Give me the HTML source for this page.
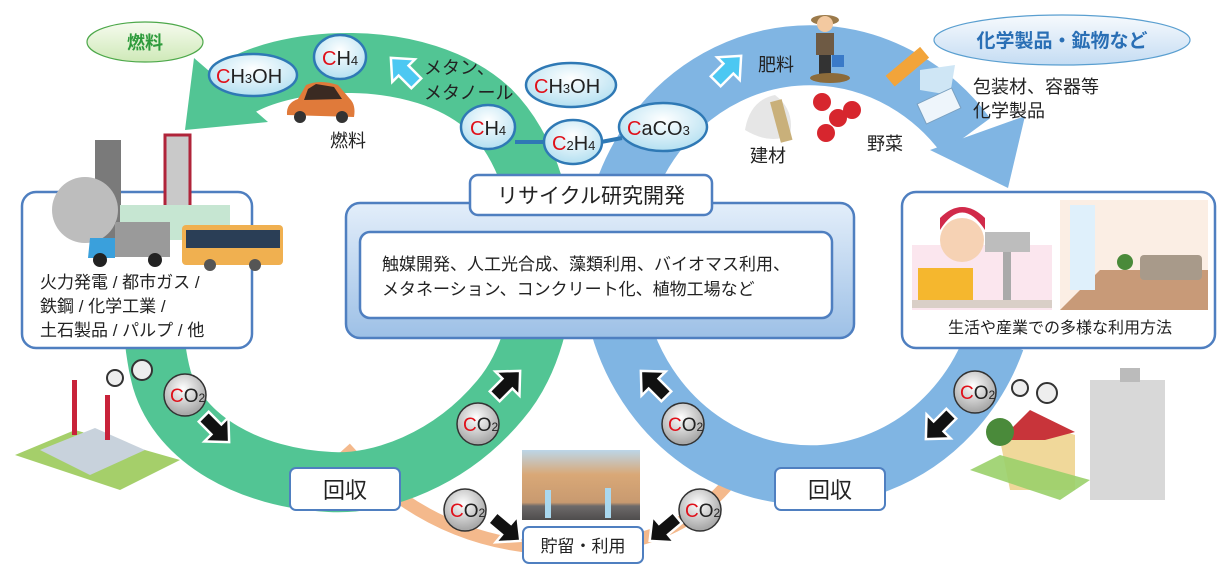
<!DOCTYPE html>
<html><head><meta charset="utf-8"><style>
html,body{margin:0;padding:0;background:#fff}
svg{display:block}
text{font-family:"Liberation Sans","Noto Sans CJK JP",sans-serif}
</style></head><body>
<svg width="1225" height="571" viewBox="0 0 1225 571" xmlns="http://www.w3.org/2000/svg">
<defs>
<radialGradient id="gb" cx="50%" cy="35%" r="60%"><stop offset="0" stop-color="#ffffff"/><stop offset="1" stop-color="#b9e2f2"/></radialGradient>
<radialGradient id="gc" cx="45%" cy="35%" r="60%"><stop offset="0" stop-color="#ffffff"/><stop offset="1" stop-color="#a9a9a9"/></radialGradient>
<linearGradient id="gg" x1="0" y1="0" x2="0" y2="1"><stop offset="0" stop-color="#f6fbef"/><stop offset="1" stop-color="#cfe9b8"/></linearGradient>
<linearGradient id="gbl" x1="0" y1="0" x2="0" y2="1"><stop offset="0" stop-color="#f7fafd"/><stop offset="1" stop-color="#c4dcf3"/></linearGradient>
<linearGradient id="rb" x1="0" y1="0" x2="0" y2="1"><stop offset="0" stop-color="#e3eefa"/><stop offset="1" stop-color="#9dc0e6"/></linearGradient>
<linearGradient id="desert" x1="0" y1="0" x2="0" y2="1"><stop offset="0" stop-color="#bcd6e8"/><stop offset="0.35" stop-color="#d9a877"/><stop offset="0.75" stop-color="#c89a70"/><stop offset="0.8" stop-color="#6d6a6a"/><stop offset="1" stop-color="#4f4d4d"/></linearGradient>
<g id="bk"><polygon points="-16,-7 2,-7 2,-17 20,0 2,17 2,7 -16,7" fill="#111" stroke="#fff" stroke-width="2.5" stroke-linejoin="miter"/></g>
<g id="co2"><circle r="21" fill="url(#gc)" stroke="#333" stroke-width="1.5"/><text x="-15" y="7" font-size="19"><tspan fill="#e0101a">C</tspan><tspan fill="#222">O</tspan><tspan font-size="12" fill="#222">2</tspan></text></g>
</defs>

<!-- orange bottom arc -->
<path d="M345 448 Q 440 555 583 548 Q 700 542 750 452" fill="none" stroke="#f4b98c" stroke-width="13"/>

<!-- green ring -->
<path d="M228,94 C280,55 420,45 490,110 C560,180 560,330 500,400 C450,460 380,485 330,482 C250,478 180,440 162,380 C148,330 152,260 168,200" fill="none" stroke="#52c594" stroke-width="60"/>
<polygon points="194,58 185,130 268,122" fill="#52c594"/>
<!-- blue ring -->
<path d="M 995 340 A 198 210 0 1 1 966 136" fill="none" stroke="#80b5e3" stroke-width="60"/>
<polygon points="930,150 1025,116 1008,188" fill="#80b5e3"/>

<!-- light cyan arrows -->
<g transform="translate(405,72) rotate(-135)"><polygon points="-16,-7 2,-7 2,-16 20,0 2,16 2,7 -16,7" fill="#4cc8f2" stroke="#fff" stroke-width="2.5"/></g>
<g transform="translate(727,70) rotate(-45)"><polygon points="-16,-7 2,-7 2,-16 20,0 2,16 2,7 -16,7" fill="#4cc8f2" stroke="#fff" stroke-width="2.5"/></g>

<!-- fuel ellipse -->
<ellipse cx="145" cy="42" rx="58" ry="20" fill="url(#gg)" stroke="#4da84a" stroke-width="1.2"/>
<text x="145" y="49" font-size="18" font-weight="bold" fill="#2e9b3c" text-anchor="middle">燃料</text>

<!-- chemical ellipse -->
<ellipse cx="1062" cy="40" rx="128" ry="25" fill="url(#gbl)" stroke="#5a9fd0" stroke-width="1.2"/>
<text x="1062" y="47" font-size="19" font-weight="bold" fill="#2a6fb5" text-anchor="middle">化学製品・鉱物など</text>

<!-- molecule bubbles -->
<g stroke="#2f79b5" stroke-width="2.5" fill="url(#gb)">
<ellipse cx="253" cy="75" rx="44" ry="21"/>
<ellipse cx="340" cy="57" rx="26" ry="22"/>
<ellipse cx="571" cy="85" rx="45" ry="22"/>
<ellipse cx="488" cy="127" rx="27" ry="22"/>
<ellipse cx="663" cy="127" rx="44" ry="24"/>
</g>
<line x1="515" y1="142" x2="545" y2="142" stroke="#2f79b5" stroke-width="4"/>
<line x1="601" y1="142" x2="622" y2="138" stroke="#2f79b5" stroke-width="4"/>
<ellipse cx="573" cy="142" rx="29" ry="22" fill="url(#gb)" stroke="#2f79b5" stroke-width="2.5"/>
<g font-size="20" fill="#222">
<text x="216" y="83"><tspan fill="#e0101a">C</tspan>H<tspan font-size="13">3</tspan>OH</text>
<text x="322" y="65"><tspan fill="#e0101a">C</tspan>H<tspan font-size="13">4</tspan></text>
<text x="534" y="93"><tspan fill="#e0101a">C</tspan>H<tspan font-size="13">3</tspan>OH</text>
<text x="470" y="135"><tspan fill="#e0101a">C</tspan>H<tspan font-size="13">4</tspan></text>
<text x="552" y="150"><tspan fill="#e0101a">C</tspan><tspan font-size="13">2</tspan>H<tspan font-size="13">4</tspan></text>
<text x="627" y="135"><tspan fill="#e0101a">C</tspan>aCO<tspan font-size="13">3</tspan></text>
</g>

<!-- labels -->
<g font-size="18" fill="#222">
<text x="424" y="74">メタン、</text>
<text x="424" y="99">メタノール</text>
<text x="330" y="147">燃料</text>
<text x="758" y="71">肥料</text>
<text x="750" y="162">建材</text>
<text x="867" y="150">野菜</text>
<text x="973" y="93">包装材、容器等</text>
<text x="973" y="117">化学製品</text>
</g>

<!-- car -->
<g transform="translate(320,105)">
<path d="M-33,10 Q-34,-2 -22,-6 L-14,-20 Q0,-26 18,-20 L30,-6 Q36,0 34,12 Z" fill="#e07a3a"/>
<path d="M-12,-16 L-4,-21 L14,-18 L22,-6 L-16,-5 Z" fill="#3a2a22"/>
<circle cx="-20" cy="12" r="6" fill="#333"/><circle cx="22" cy="12" r="6" fill="#333"/>
</g>
<!-- farmer -->
<g transform="translate(825,50)">
<ellipse cx="0" cy="-30" rx="14" ry="5" fill="#9b7a4a"/><circle cx="0" cy="-26" r="8" fill="#f3c9a0"/>
<rect x="-9" y="-17" width="18" height="22" fill="#6e5a44"/><rect x="-6" y="5" width="12" height="20" fill="#333"/>
<rect x="7" y="5" width="12" height="12" fill="#3a7ac8"/>
<ellipse cx="5" cy="28" rx="20" ry="5" fill="#8c6b3a"/>
</g>
<!-- materials -->
<path d="M745,130 Q750,100 775,95 Q795,110 790,135 Q770,145 745,130Z" fill="#e6e6e6"/>
<rect x="775" y="100" width="12" height="42" fill="#c9b07a" transform="rotate(-15 781 120)"/>
<g fill="#d7262e"><circle cx="822" cy="102" r="9"/><circle cx="852" cy="110" r="9"/><circle cx="838" cy="118" r="9"/><circle cx="826" cy="133" r="9"/></g>
<rect x="885" y="60" width="45" height="14" fill="#f2a43a" transform="rotate(-40 907 67)"/>
<path d="M920,70 L955,65 L950,95 L920,90Z" fill="#cfe6f5"/>
<rect x="920" y="95" width="38" height="22" fill="#eef5fb" stroke="#7aa0c0" transform="rotate(-25 939 106)"/>

<!-- research box -->
<rect x="346" y="203" width="508" height="135" rx="14" fill="url(#rb)" stroke="#4f7fc0" stroke-width="2.5"/>
<rect x="470" y="175" width="242" height="40" rx="8" fill="#fff" stroke="#4f7fc0" stroke-width="2.5"/>
<text x="591" y="203" font-size="21" fill="#222" text-anchor="middle">リサイクル研究開発</text>
<rect x="360" y="232" width="472" height="86" rx="10" fill="#fff" stroke="#4f7fc0" stroke-width="2.5"/>
<text x="382" y="270" font-size="17" fill="#222">触媒開発、人工光合成、藻類利用、バイオマス利用、</text>
<text x="382" y="295" font-size="17" fill="#222">メタネーション、コンクリート化、植物工場など</text>

<!-- left box -->
<rect x="22" y="192" width="230" height="156" rx="14" fill="#fff" stroke="#4f7fc0" stroke-width="2.5"/>
<!-- left factory -->
<g>
<rect x="95" y="140" width="26" height="100" fill="#7a7a7a"/>
<rect x="165" y="135" width="25" height="100" fill="#c9c9c9" stroke="#b0243a" stroke-width="3"/>
<circle cx="85" cy="210" r="33" fill="#bdbdbd"/>
<rect x="120" y="205" width="110" height="35" fill="#c6e6d2"/>
<rect x="115" y="222" width="55" height="35" fill="#9a9a9a"/>
<path d="M90,238 L115,238 L115,258 L88,258Z" fill="#3aa0dc"/>
<circle cx="100" cy="260" r="7" fill="#222"/><circle cx="155" cy="260" r="7" fill="#222"/>
<rect x="182" y="225" width="101" height="40" rx="4" fill="#f0b050"/><rect x="186" y="230" width="94" height="18" fill="#2a3e56"/>
<circle cx="210" cy="265" r="6" fill="#555"/><circle cx="255" cy="265" r="6" fill="#555"/>
</g>
<g font-size="17" fill="#222">
<text x="40" y="288">火力発電 / 都市ガス /</text>
<text x="40" y="312">鉄鋼 / 化学工業 /</text>
<text x="40" y="336">土石製品 / パルプ / 他</text>
</g>

<!-- right box -->
<rect x="902" y="192" width="313" height="156" rx="14" fill="#fff" stroke="#4f7fc0" stroke-width="2.5"/>
<rect x="912" y="245" width="140" height="65" fill="#fbe6ee"/>
<circle cx="962" cy="240" r="22" fill="#f6d2b4"/><path d="M940,230 Q962,195 985,230 L985,218 Q962,196 940,218Z" fill="#d12a4a"/>
<rect x="918" y="268" width="55" height="32" fill="#f5b72e"/>
<rect x="985" y="232" width="45" height="20" fill="#bdbdbd"/><rect x="1003" y="252" width="8" height="48" fill="#aaa"/>
<rect x="912" y="300" width="140" height="8" fill="#d9cfc7"/>
<rect x="1060" y="200" width="148" height="110" fill="#fbeee4"/>
<polygon points="1060,310 1100,270 1208,270 1208,310" fill="#c89a78"/>
<rect x="1070" y="205" width="25" height="85" fill="#dff0fb"/>
<rect x="1140" y="255" width="62" height="25" rx="4" fill="#a89a8a"/>
<circle cx="1125" cy="262" r="8" fill="#4a8a3a"/>
<text x="1060" y="333" font-size="16" fill="#222" text-anchor="middle">生活や産業での多様な利用方法</text>

<!-- bottom-left factory -->
<polygon points="15,455 75,430 180,460 120,490" fill="#a5cf6a"/>
<polygon points="40,450 95,428 145,450 90,475" fill="#c8d2dc"/>
<rect x="72" y="380" width="5" height="55" fill="#c8223a"/><rect x="105" y="395" width="5" height="45" fill="#c8223a"/>
<circle cx="115" cy="378" r="8" fill="#eee" stroke="#333" stroke-width="2"/>
<circle cx="142" cy="370" r="10" fill="#eee" stroke="#333" stroke-width="2"/>
<!-- right building/house -->
<rect x="1090" y="380" width="75" height="120" fill="#d8d8d8"/>
<rect x="1120" y="368" width="20" height="14" fill="#bbb"/>
<polygon points="1000,440 1030,420 1075,435 1075,490 1010,490" fill="#f0d89a"/>
<polygon points="1000,440 1030,410 1075,432 1045,440" fill="#c8343a"/>
<polygon points="970,470 1000,455 1090,480 1060,500" fill="#9ad06a" opacity="0.9"/>
<circle cx="1000" cy="432" r="14" fill="#4a8a3a"/>
<circle cx="1020" cy="388" r="8" fill="#eee" stroke="#333" stroke-width="2"/>
<circle cx="1047" cy="393" r="10" fill="#eee" stroke="#333" stroke-width="2"/>

<!-- photo -->
<rect x="522" y="450" width="118" height="70" fill="url(#desert)"/>
<rect x="545" y="490" width="6" height="28" fill="#a9d8ef"/><rect x="605" y="488" width="6" height="30" fill="#a9d8ef"/>

<!-- CO2 bubbles and black arrows -->
<use href="#co2" x="185" y="395"/>
<use href="#co2" x="478" y="424"/>
<use href="#co2" x="683" y="424"/>
<use href="#co2" x="465" y="510"/>
<use href="#co2" x="700" y="510"/>
<use href="#co2" x="975" y="392"/>
<g transform="translate(215,428) rotate(45)"><use href="#bk"/></g>
<g transform="translate(506,385) rotate(-45)"><use href="#bk"/></g>
<g transform="translate(655,385) rotate(-135)"><use href="#bk"/></g>
<g transform="translate(940,425) rotate(135)"><use href="#bk"/></g>
<g transform="translate(505,528) rotate(40)"><use href="#bk"/></g>
<g transform="translate(665,528) rotate(140)"><use href="#bk"/></g>

<!-- boxes -->
<rect x="290" y="468" width="110" height="42" rx="6" fill="#fff" stroke="#4f7fc0" stroke-width="2"/>
<text x="345" y="498" font-size="22" fill="#222" text-anchor="middle">回収</text>
<rect x="775" y="468" width="110" height="42" rx="6" fill="#fff" stroke="#4f7fc0" stroke-width="2"/>
<text x="830" y="498" font-size="22" fill="#222" text-anchor="middle">回収</text>
<rect x="523" y="527" width="120" height="36" rx="6" fill="#fff" stroke="#4f7fc0" stroke-width="2"/>
<text x="583" y="552" font-size="17" fill="#222" text-anchor="middle">貯留・利用</text>
</svg>
</body></html>
